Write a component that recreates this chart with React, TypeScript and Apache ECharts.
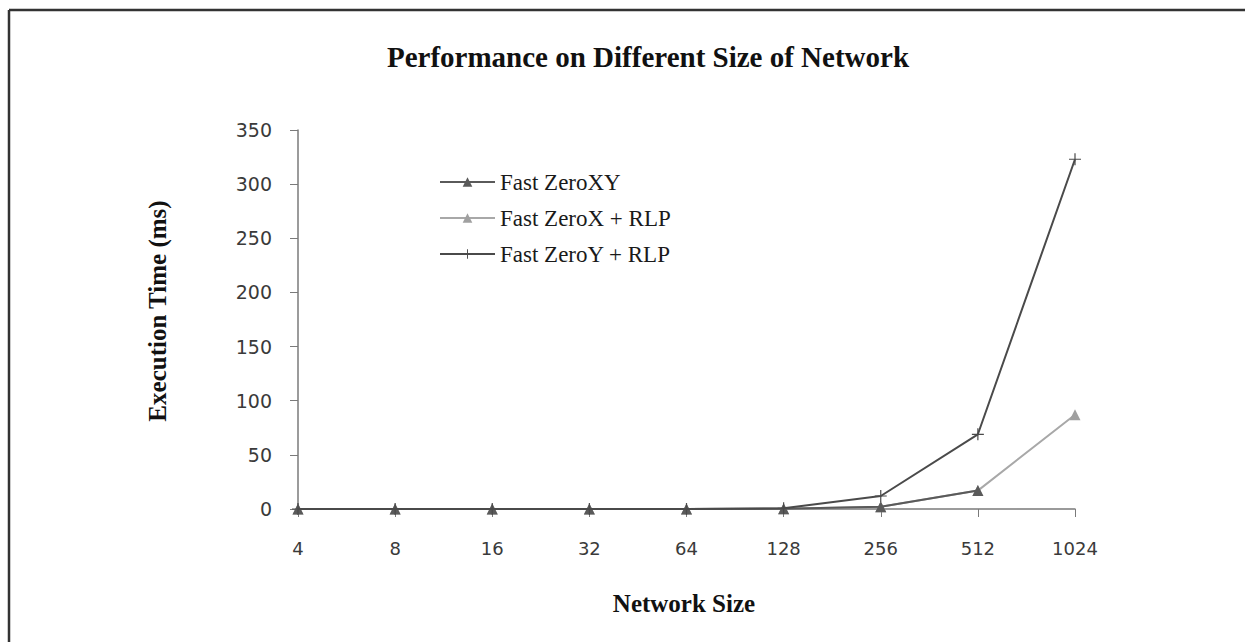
import React, { useEffect, useRef } from "react";
import * as echarts from "echarts";

const categories = ["4", "8", "16", "32", "64", "128", "256", "512", "1024"];
const yTicks = [0, 50, 100, 150, 200, 250, 300, 350];
const zeroXY: (number | null)[] = [0, 0, 0, 0, 0, 0.3, 2, 17, null];
const zeroXRLP: (number | null)[] = [0, 0, 0, 0, 0, 0.3, 2, 17, 87];
const zeroYRLP: (number | null)[] = [0, 0, 0, 0, 0, 0.6, 12, 69, 323];

const titleText = "Performance on Different Size of Network";
const xName = "Network Size";
const yName = "Execution Time (ms)";

const STAR =
  "path://M4.5,0 L5.5,0 L5.5,4.5 L10,4.5 L10,5.5 L5.5,5.5 L5.5,10 L4.5,10 L4.5,5.5 L0,5.5 L0,4.5 L4.5,4.5 Z";

export default function App() {
  const ref = useRef<HTMLDivElement>(null);
  useEffect(() => {
    document.body.style.margin = "0";
    document.body.style.overflow = "hidden";
    if (!ref.current) return;
    const chart = echarts.init(ref.current, undefined, { renderer: "svg" });
    const serif = "'Liberation Serif', 'Times New Roman', serif";
    const sans = "'DejaVu Sans', Verdana, sans-serif";
    chart.setOption({
      animation: false,
      backgroundColor: "#ffffff",
      grid: { left: 298, right: 170, top: 130, bottom: 133, containLabel: false },
      legend: {
        orient: "vertical",
        left: 439,
        top: 170,
        padding: 0,
        itemWidth: 55,
        itemHeight: 12,
        itemGap: 12,
        textStyle: {
          fontFamily: serif,
          fontSize: 23,
          color: "#1a1a1a",
          lineHeight: 24,
        },
        data: ["Fast ZeroXY", "Fast ZeroX + RLP", "Fast ZeroY + RLP"],
      },
      xAxis: {
        type: "category",
        data: categories,
        boundaryGap: false,
        axisLine: { lineStyle: { color: "#7a7a7a", width: 1.5 } },
        axisTick: { show: true, length: 8, lineStyle: { color: "#7a7a7a" } },
        axisLabel: { margin: 30, fontFamily: sans, fontSize: 18, color: "#3a3a3a" },
        splitLine: { show: false },
      },
      yAxis: {
        type: "value",
        min: yTicks[0],
        max: yTicks[yTicks.length - 1],
        interval: 50,
        axisLine: { show: true, lineStyle: { color: "#7a7a7a", width: 1.5 } },
        axisTick: { show: true, length: 8, lineStyle: { color: "#7a7a7a" } },
        axisLabel: { margin: 26, fontFamily: sans, fontSize: 19, color: "#3a3a3a" },
        splitLine: { show: false },
      },
      series: [
        {
          name: "Fast ZeroXY",
          type: "line",
          data: zeroXY,
          symbol: "triangle",
          symbolSize: 11,
          lineStyle: { color: "#5a5a5a", width: 2 },
          itemStyle: { color: "#5a5a5a" },
          z: 2,
        },
        {
          name: "Fast ZeroX + RLP",
          type: "line",
          data: zeroXRLP,
          symbol: "triangle",
          symbolSize: 11,
          lineStyle: { color: "#a8a8a8", width: 2 },
          itemStyle: { color: "#a0a0a0" },
          z: 1,
        },
        {
          name: "Fast ZeroY + RLP",
          type: "line",
          data: zeroYRLP,
          symbol: STAR,
          symbolSize: 12,
          lineStyle: { color: "#4a4a4a", width: 2 },
          itemStyle: { color: "#4a4a4a" },
          z: 3,
        },
      ],
      graphic: [
        {
          type: "line",
          shape: { x1: 9, y1: 10, x2: 1260, y2: 10 },
          style: { stroke: "#333333", lineWidth: 2.5 },
          silent: true,
        },
        {
          type: "line",
          shape: { x1: 9, y1: 10, x2: 9, y2: 660 },
          style: { stroke: "#333333", lineWidth: 2.5 },
          silent: true,
        },
        {
          type: "text",
          x: 648,
          y: 57,
          style: {
            text: titleText,
            fontFamily: serif,
            fontWeight: "bold",
            fontSize: 29,
            fill: "#111111",
            textAlign: "center",
            textVerticalAlign: "middle",
          },
        },
        {
          type: "text",
          x: 684,
          y: 603,
          style: {
            text: xName,
            fontFamily: serif,
            fontWeight: "bold",
            fontSize: 25,
            fill: "#111111",
            textAlign: "center",
            textVerticalAlign: "middle",
          },
        },
        {
          type: "text",
          x: 157,
          y: 311,
          rotation: Math.PI / 2,
          style: {
            text: yName,
            fontFamily: serif,
            fontWeight: "bold",
            fontSize: 25,
            fill: "#111111",
            textAlign: "center",
            textVerticalAlign: "middle",
          },
        },
      ],
    });
    return () => chart.dispose();
  }, []);
  return (
    <div
      ref={ref}
      style={{ position: "absolute", left: 0, top: 0, width: 1245, height: 642, background: "#fff" }}
    />
  );
}
